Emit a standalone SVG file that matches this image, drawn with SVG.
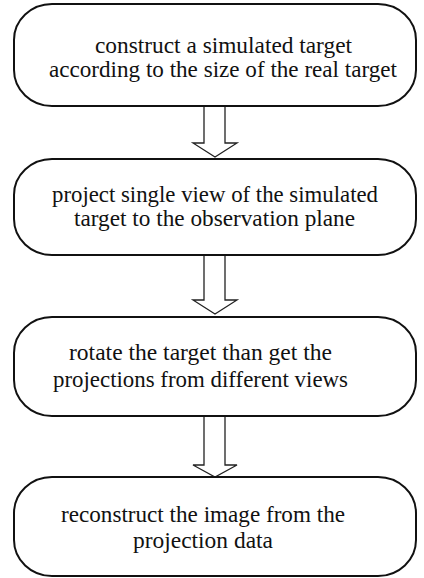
<svg xmlns="http://www.w3.org/2000/svg" width="424" height="578" viewBox="0 0 424 578">
<style>
.box{fill:#fff;stroke:#111;stroke-width:2}
.arr{fill:#fff;stroke:#222;stroke-width:1.3}
text{font-family:"Liberation Serif","Times New Roman",serif;font-size:23px;fill:#111;text-anchor:middle}
</style>
<rect width="424" height="578" fill="#fff"/>
<g id="connectors">
<path class="arr" d="M204,106 V143 H193 L215,157 L237,143 H225 V106"/>
<path class="arr" d="M204,255 V300 H193 L215,314 L237,300 H225 V255"/>
<path class="arr" d="M204,416 V465 H193 L215,477 L237,465 H225 V416"/>
</g>
<g id="n1">
<rect class="box" x="14" y="4" width="402" height="102" rx="38" ry="36"/>
<text x="223.5" y="53" textLength="257" lengthAdjust="spacingAndGlyphs">construct a simulated target</text>
<text x="223" y="77" textLength="348" lengthAdjust="spacingAndGlyphs">according to the size of the real target</text>
</g>
<g id="n2">
<rect class="box" x="14" y="159" width="402" height="96" rx="38" ry="36"/>
<text x="215" y="202" textLength="326" lengthAdjust="spacingAndGlyphs">project single view of the simulated</text>
<text x="214.5" y="226" textLength="281" lengthAdjust="spacingAndGlyphs">target to the observation plane</text>
</g>
<g id="n3">
<rect class="box" x="14" y="317" width="402" height="99" rx="38" ry="36"/>
<text x="200.5" y="360" textLength="263" lengthAdjust="spacingAndGlyphs">rotate the target than get the</text>
<text x="200.5" y="387" textLength="295" lengthAdjust="spacingAndGlyphs">projections from different views</text>
</g>
<g id="n4">
<rect class="box" x="14" y="477" width="402" height="99" rx="38" ry="36"/>
<text x="203" y="522" textLength="284" lengthAdjust="spacingAndGlyphs">reconstruct the image from the</text>
<text x="203" y="548" textLength="140" lengthAdjust="spacingAndGlyphs">projection data</text>
</g>
</svg>
